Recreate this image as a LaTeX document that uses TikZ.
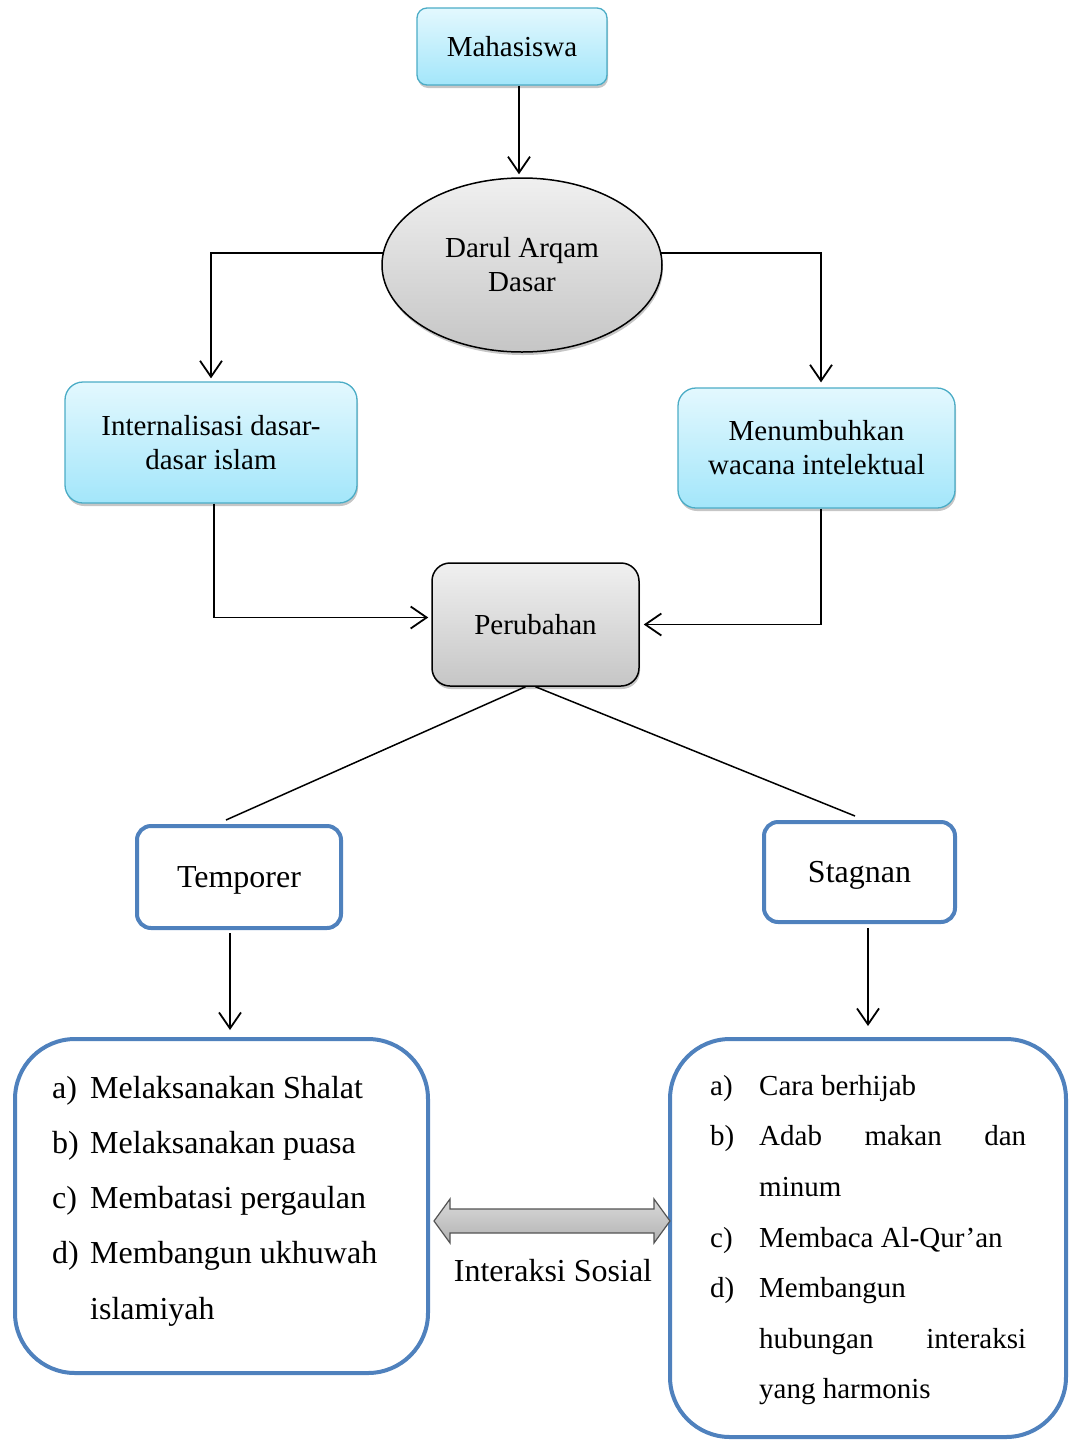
\documentclass[tikz,border=0pt]{standalone}
\usepackage{fontspec}
\setmainfont{Liberation Serif}
\usetikzlibrary{arrows.meta,shadows,shapes.geometric,calc}
\definecolor{cyanB}{HTML}{4BACC6}
\definecolor{cyanT}{HTML}{E3F8FE}
\definecolor{cyanBot}{HTML}{A3E6FA}
\definecolor{blueB}{HTML}{4F81BD}
\begin{document}
\begin{tikzpicture}[x=1pt,y=-1pt,
  arr/.style={-{Straight Barb[length=16pt,width=22pt]}, line width=1.8pt},
  conn/.style={line width=1.5pt},
  shd/.style={drop shadow={shadow xshift=1pt,shadow yshift=-3pt,opacity=0.45}},
  fsmall/.style={font=\fontsize{29}{34}\selectfont},
  fbig/.style={font=\fontsize{32}{38}\selectfont},
  cyanbox/.style={rectangle, draw=cyanB, line width=1.3pt, top color=cyanT, bottom color=cyanBot, shd, align=center, fsmall, inner sep=0pt},
  graybox/.style={draw=black, line width=1.5pt, top color=gray!12, bottom color=gray!45, shd, align=center, fsmall, inner sep=0pt},
  bluebox/.style={rectangle, draw=blueB, line width=4pt, fill=white, align=center, fbig, inner sep=0pt, text depth=0pt},
  txt/.style={anchor=base west, inner sep=0pt},
  darrow/.style={draw=gray!65!black, line width=1.2pt, top color=gray!30, middle color=gray!8, bottom color=gray!60}
]
\useasboundingbox (0,0) rectangle (1071,1441);

% top nodes
\node[cyanbox, rounded corners=10pt, minimum width=190pt, minimum height=77pt] (mah) at (512,46.5) {Mahasiswa};
\node[graybox, ellipse, minimum width=280pt, minimum height=174pt] (dar) at (522,265) {Darul Arqam\\Dasar};
\node[cyanbox, rounded corners=18pt, minimum width=292pt, minimum height=121pt] (intl) at (211,442.5) {Internalisasi dasar-\\dasar islam};
\node[cyanbox, rounded corners=18pt, minimum width=277pt, minimum height=120pt] (menu) at (816.5,448) {Menumbuhkan\\wacana intelektual};
\node[graybox, rectangle, rounded corners=18pt, minimum width=207pt, minimum height=123pt] (per) at (535.5,624.5) {Perubahan};

% middle nodes
\node[bluebox, rounded corners=14pt, minimum width=204pt, minimum height=102pt] (temp) at (239,877) {Temporer};
\node[bluebox, rounded corners=14pt, minimum width=191pt, minimum height=100pt] (stag) at (859.5,872) {Stagnan};

% list boxes
\node[bluebox, rounded corners=60pt, minimum width=413pt, minimum height=334pt] (ll) at (221.5,1206) {};
\node[bluebox, rounded corners=60pt, minimum width=396pt, minimum height=398pt] (rl) at (868,1238) {};

% left list text
\begin{scope}[every node/.style={txt, fbig}]
\node (la) at (52,1098) {a)}; \node (ta) at (90,1098) {Melaksanakan Shalat};
\node (lb) at (52,1153) {b)}; \node (tb) at (90,1153) {Melaksanakan puasa};
\node (lc) at (52,1208) {c)}; \node (tc) at (90,1208) {Membatasi pergaulan};
\node (ld) at (52,1263) {d)}; \node (td) at (90,1263) {Membangun ukhuwah};
\node (te) at (90,1319) {islamiyah};
\end{scope}

% right list text
\begin{scope}[every node/.style={txt, fsmall}]
\node (ra) at (710,1095) {a)}; \node (sa) at (759,1095) {Cara berhijab};
\node (rb) at (710,1145) {b)}; \node (sb) at (759,1145) {\makebox[267pt][s]{Adab makan dan}};
\node (sb2) at (759,1196) {minum};
\node (rc) at (710,1247) {c)}; \node (sc) at (759,1247) {Membaca Al-Qur’an};
\node (rd) at (710,1297) {d)}; \node (sd) at (759,1297) {Membangun};
\node (sd2) at (759,1348) {\makebox[267pt][s]{hubungan interaksi}};
\node (sd3) at (759,1398) {yang harmonis};
\end{scope}

% interaction label
\node[anchor=base, inner sep=0pt, fbig] (inter) at (553,1281) {Interaksi Sosial};

% connectors
\draw[arr] ($(mah.south)+(7,0)$) -- ($(dar.north)+(-3,-3)$);
\draw[arr, shorten >=3pt] (dar.175) -| (intl.north);
\draw[arr, shorten >=5pt] (dar.5) -| ($(menu.north)+(4.5,0)$);
\draw[arr, shorten >=3pt] ($(intl.south)+(3,0)$) |- ($(per.west)+(0,-7)$);
\draw[arr, shorten >=4pt] ($(menu.south)+(4.5,0)$) |- (per.east);
\draw[conn] ($(per.south)+(-10,0)$) -- ($(temp.north)+(-13,-4)$);
\draw[conn] (per.south) -- ($(stag.north)+(-4.5,-4)$);
\draw[arr] ($(temp.south)+(-9,3)$) -- ($(ll.north)+(8.5,-7)$);
\draw[arr] ($(stag.south)+(8.5,4)$) -- ($(rl.north)+(0,-11)$);

% double arrow
\coordinate (dl) at ($(ll.east)+(4,15)$);
\draw[darrow] (dl) -- ++(16,-22) -- ++(0,10) -- ++(204,0) -- ++(0,-10) -- ++(16,22)
  -- ++(-16,22) -- ++(0,-10) -- ++(-204,0) -- ++(0,10) -- cycle;
\end{tikzpicture}
\end{document}
